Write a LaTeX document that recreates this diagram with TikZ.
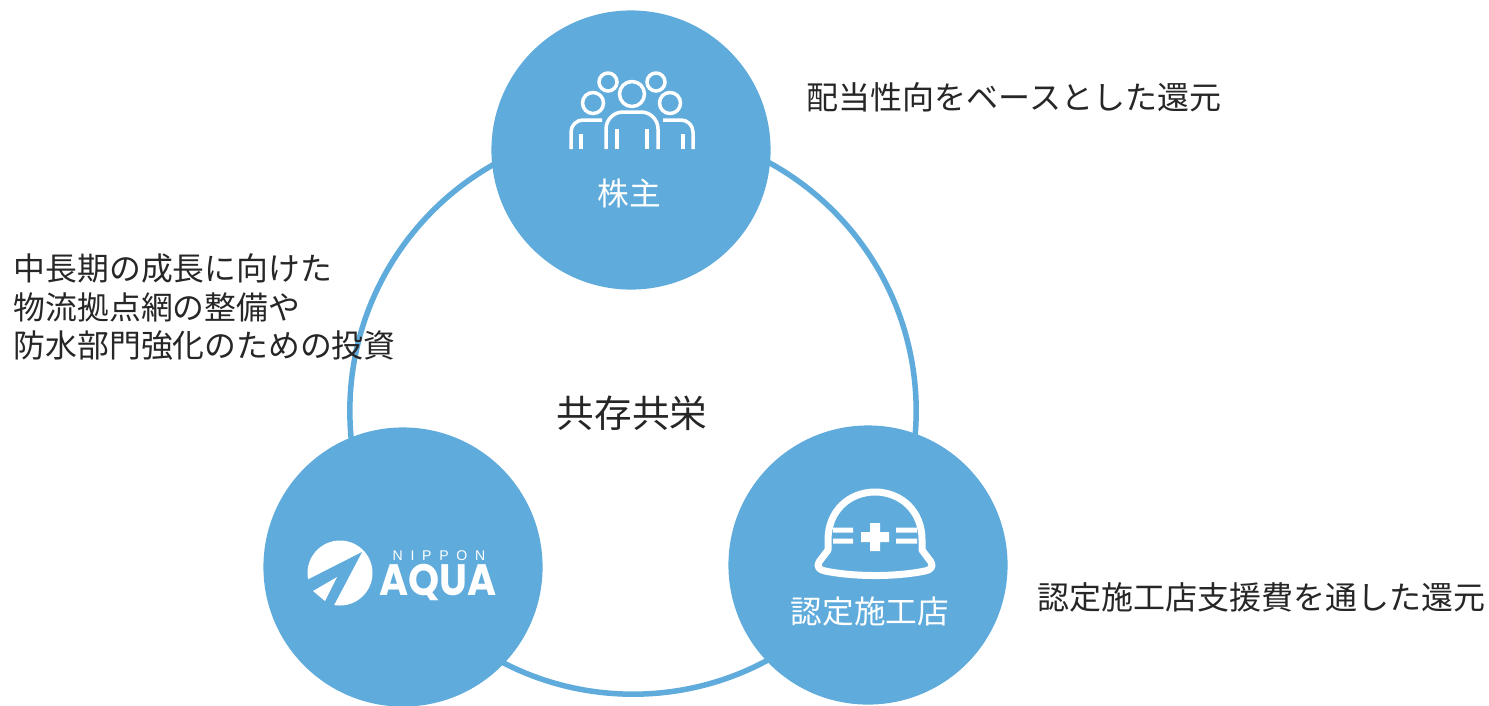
\documentclass[tikz,border=0pt]{standalone}
\usepackage{fontspec}
\setmainfont{Noto Sans CJK JP}
\newfontfamily\logofont{Liberation Sans}
\newfontfamily\logobold{Poppins}
\usetikzlibrary{positioning}
\definecolor{aquablue}{HTML}{5FABDB}
\begin{document}
\begin{tikzpicture}[x=0.01cm,y=-0.01cm,
  party/.style={circle,fill=aquablue,minimum size=2.79cm,inner sep=0pt},
  note/.style={anchor=west,inner sep=0pt,align=left,text=black!85,font=\fontsize{9.1}{11}\selectfont},
  partylabel/.style={text=white,inner sep=0pt,font=\fontsize{9}{11}\selectfont},
  iconline/.style={draw=white,line width=0.035cm,line cap=butt},
  helmetline/.style={draw=white,line width=0.07cm,line join=round}]
  \useasboundingbox (0,0) rectangle (1489,705);
  \node[circle,draw=aquablue,line width=0.055cm,minimum size=5.66cm,inner sep=0pt] (ring) at (633,411) {};
  \node[party] (shareholder) at (631,150) {};
  \node[party] (company) at (403,567) {};
  \node[party] (contractor) at (868,565) {};
  \node[inner sep=0pt,text=black!85,font=\fontsize{10.7}{12}\selectfont] (center) at (632,413) {共存共栄};
  \node[partylabel] (shareholderlabel) at (629,193) {株主};
  \node[partylabel] (contractorlabel) at (870,612) {認定施工店};
  \node[note] (returnnote) at (806,97) {配当性向をベースとした還元};
  \node[note,font=\fontsize{9.05}{11}\selectfont] (investnote) at (13,307) {中長期の成長に向けた\\物流拠点網の整備や\\防水部門強化のための投資};
  \node[note] (supportnote) at (1037,597) {認定施工店支援費を通した還元};
  % people icon
  \foreach \x/\y/\r in {632/94/12.5,608/82/9,656/82/9,593/103/10.5,670/103/10.5}
    \draw[iconline] (\x,\y) circle (\r);
  \draw[iconline,rounded corners=0.17cm] (606,149) -- (606,112) -- (658,112) -- (658,149);
  \draw[iconline,rounded corners=0.12cm] (571,149) -- (571,120) -- (602,120);
  \draw[iconline,rounded corners=0.12cm] (693,149) -- (693,120) -- (663,120);
  \foreach \x/\y in {617/129,647/129,581/134,683/134}
    \draw[iconline] (\x,\y) -- (\x,149);
  % helmet icon
  \draw[helmetline] (828,550) -- (828,540) .. controls (828,510) and (850,492) .. (875,492) .. controls (900,492) and (922,510) .. (922,540) -- (922,550)
    -- (931,562) .. controls (934,567) and (930,570) .. (925,571) .. controls (895,577) and (855,577) .. (825,571) .. controls (820,570) and (816,567) .. (819,562) -- cycle;
  \foreach \y in {530,541}
    \fill[white] (833,\y-2.5) rectangle (853,\y+2.5) (896,\y-2.5) rectangle (917,\y+2.5);
  \fill[white] (861,532) rectangle (889,542) (870,523) rectangle (880,551);
  % logo
  \fill[white] (340,573) circle (32.5);
  \fill[aquablue] (362,552) -- (303,582) -- (307,617) -- (333,607) -- cycle;
  \fill[white] (337,577) -- (313,591) -- (325,601) -- cycle;
  \node[inner sep=0pt,text=white,font=\logofont\fontsize{4}{5}\selectfont\addfontfeature{LetterSpace=55}] (logotop) at (439,556) {NIPPON};
  \node[inner sep=0pt,text=white,font=\logobold\bfseries\fontsize{12.5}{13}\selectfont,xscale=0.9] (logomain) at (438,582) {AQUA};
\end{tikzpicture}
\end{document}
